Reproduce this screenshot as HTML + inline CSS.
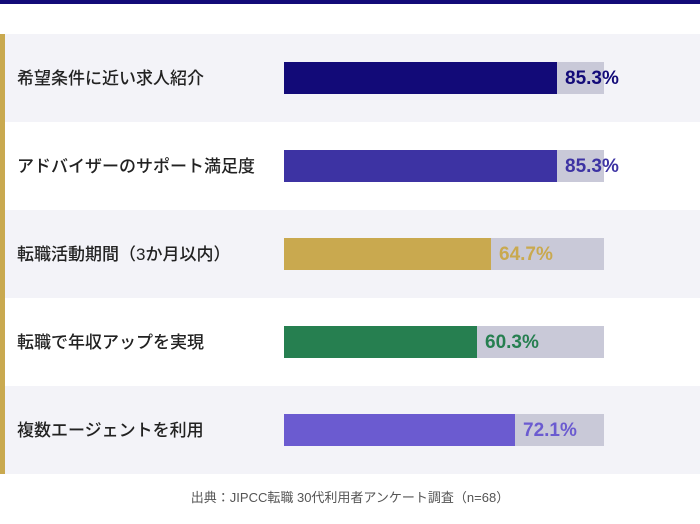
<!DOCTYPE html>
<html><head><meta charset="utf-8"><style>
body{margin:0;width:700px;height:524px;background:#fff;position:relative;overflow:hidden;font-family:"Liberation Sans","Noto Sans CJK JP",sans-serif}
.top{position:absolute;left:0;top:0;width:700px;height:4px;background:#120a78}
.gold{position:absolute;left:0;top:34px;width:5px;height:440px;background:#c9a94f}
.row{position:absolute;left:5px;width:695px;height:88px}
.g{background:#f3f3f8}
.lab{position:absolute;left:12px;top:33px;font-size:17px;line-height:24px;color:#222;font-weight:500}
.track{position:absolute;left:279px;top:28px;width:320px;height:32px;background:#c9c9d8}
.bar{position:absolute;left:0;top:0;height:32px}
.val{position:absolute;top:3px;font-size:19px;font-weight:bold;line-height:28px}
.src{position:absolute;top:487px;width:700px;text-align:center;font-size:13px;color:#555}
</style></head><body>
<div class="top"></div>
<div class="row g" style="top:34px"><div class="lab">希望条件に近い求人紹介</div><div class="track"><div class="bar" style="width:273px;background:#120a78"></div><div class="val" style="left:281px;color:#120a78">85.3%</div></div></div>
<div class="row" style="top:122px"><div class="lab">アドバイザーのサポート満足度</div><div class="track"><div class="bar" style="width:273px;background:#3d33a3"></div><div class="val" style="left:281px;color:#3d33a3">85.3%</div></div></div>
<div class="row g" style="top:210px"><div class="lab">転職活動期間（3か月以内）</div><div class="track"><div class="bar" style="width:207px;background:#c9a94f"></div><div class="val" style="left:215px;color:#c9a94f">64.7%</div></div></div>
<div class="row" style="top:298px"><div class="lab">転職で年収アップを実現</div><div class="track"><div class="bar" style="width:193px;background:#267f50"></div><div class="val" style="left:201px;color:#267f50">60.3%</div></div></div>
<div class="row g" style="top:386px"><div class="lab">複数エージェントを利用</div><div class="track"><div class="bar" style="width:231px;background:#6b5bd0"></div><div class="val" style="left:239px;color:#6b5bd0">72.1%</div></div></div>
<div class="gold"></div>
<div class="src">出典：JIPCC転職 30代利用者アンケート調査（n=68）</div>
</body></html>
